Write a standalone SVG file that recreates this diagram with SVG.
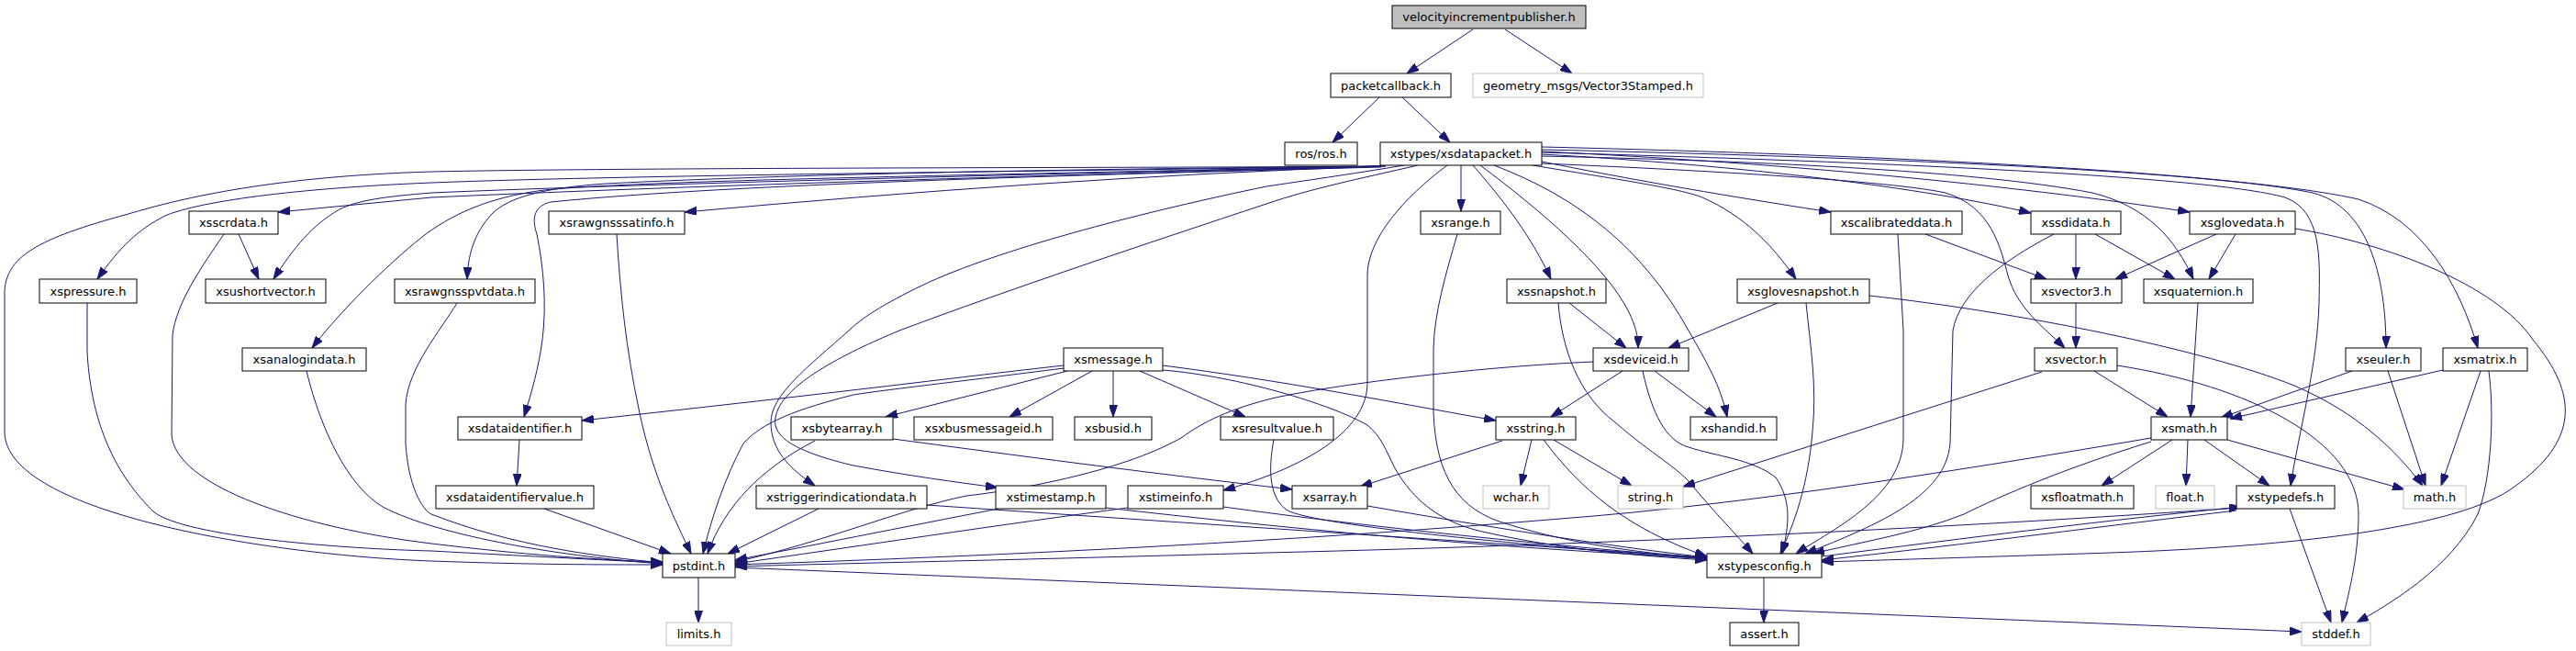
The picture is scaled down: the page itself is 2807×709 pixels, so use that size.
<svg xmlns="http://www.w3.org/2000/svg" width="2807" height="709" viewBox="0 0 2807 709">
<style>
rect{fill:#fff;stroke:#000;stroke-width:1}
.top rect{fill:#bfbfbf}
.ext rect{stroke:#bfbfbf}
text{font-family:"DejaVu Sans","Liberation Sans",sans-serif;font-size:13px;text-anchor:middle;fill:#000}
#edges path{fill:none;stroke:#191970;stroke-width:1;marker-end:url(#a)}
</style>
<defs>
<marker id="a" markerWidth="13" markerHeight="9" refX="13" refY="4.5" orient="auto" markerUnits="userSpaceOnUse"><path d="M0,0 L13,4.5 L0,9 z" fill="#191970" stroke="#191970" stroke-width="1"/></marker>
</defs>
<rect x="0" y="0" width="2807" height="709" style="stroke:none;fill:#fff"/>
<g id="edges">
<path d="M1605,32 L1533,80"/>
<path d="M1640,32 L1713,80"/>
<path d="M1503,106 L1452,155"/>
<path d="M1528,106 L1580,155"/>
<path d="M1510,181 C1300,183 700,182 470,187 C300,192 200,215 140,233 C40,260 5,280 5,320 L5,470 C5,560 300,605 470,611 C580,615 650,615 722,615"/>
<path d="M1510,181 C1200,186 700,190 470,199 C300,206 210,222 180,235 C150,250 130,270 106,304"/>
<path d="M1505,181 C1200,190 800,200 470,215 L303,231"/>
<path d="M1505,181 C1200,188 700,200 470,210 C420,214 390,218 370,228 C340,245 320,270 298,304"/>
<path d="M260,255 L282,304"/>
<path d="M244,255 C220,290 192,330 188,365 L187,473 C190,530 330,575 470,592 C570,604 650,610 722,612"/>
<path d="M95,330 L95,383 C100,480 140,530 167,557 C200,585 380,598 470,600 C580,606 660,610 722,613"/>
<path d="M1505,181 C1100,190 700,196 593,207 C530,215 490,235 460,258 C420,290 370,340 340,379"/>
<path d="M334,404 C350,470 380,530 417,552 C480,585 620,607 722,614"/>
<path d="M1505,181 C1200,184 900,188 660,200 C590,205 555,215 537,232 C515,255 510,280 509,304"/>
<path d="M498,330 C480,360 445,400 442,440 L442,483 C445,530 460,555 470,560 C560,595 650,606 722,613"/>
<path d="M1506,181 C1250,190 1000,208 746,231"/>
<path d="M672,255 C676,320 682,380 697,450 C712,520 735,565 753,603"/>
<path d="M1505,182 C1200,190 800,200 600,220 C580,225 580,240 585,255 C592,290 596,330 591,370 C587,400 580,425 571,454"/>
<path d="M566,479 L563,529"/>
<path d="M593,554 L731,603"/>
<path d="M1159,398 C1050,410 930,426 634,458"/>
<path d="M1159,401 C1050,415 960,425 930,430 C870,445 830,460 810,483 C790,520 775,565 766,603"/>
<path d="M1163,404 L965,454"/>
<path d="M1190,404 L1100,454"/>
<path d="M1213,404 L1213,454"/>
<path d="M1242,404 L1357,454"/>
<path d="M1267,398 C1400,415 1500,435 1630,458"/>
<path d="M1267,403 C1350,410 1450,440 1490,463 C1505,475 1510,490 1520,510 C1540,545 1570,570 1620,580 C1700,598 1780,605 1860,610"/>
<path d="M973,478 C1100,495 1250,515 1408,533"/>
<path d="M888,480 C830,510 790,550 771,603"/>
<path d="M1530,180 C1470,190 1420,197 1380,203 C1250,230 1100,268 1013,307 C970,327 940,345 925,360 C880,400 840,430 840,460 C840,490 860,510 888,529"/>
<path d="M1545,180 C1480,195 1430,205 1380,222 C1250,265 1100,315 980,360 C920,385 850,420 845,455 C840,480 880,495 930,507 C990,518 1040,525 1087,531"/>
<path d="M892,554 L793,603"/>
<path d="M1010,550 C1300,570 1600,590 1860,607"/>
<path d="M1088,554 C980,575 880,595 801,610"/>
<path d="M1205,553 C1400,575 1600,595 1860,608"/>
<path d="M1577,180 C1530,215 1490,260 1490,300 L1490,417 C1490,470 1420,510 1333,534"/>
<path d="M1229,553 C1100,570 920,597 801,614"/>
<path d="M1333,552 C1500,575 1700,595 1860,608"/>
<path d="M1388,479 C1382,510 1382,545 1405,557 C1450,575 1700,597 1860,609"/>
<path d="M1592,180 L1592,230"/>
<path d="M1588,255 C1575,300 1563,340 1562,380 L1562,450 C1565,520 1590,555 1640,570 C1720,595 1800,603 1860,608"/>
<path d="M1605,180 C1640,220 1670,260 1690,304"/>
<path d="M1710,330 L1772,379"/>
<path d="M1698,330 C1702,380 1720,430 1760,460 C1800,495 1830,510 1845,530 C1870,560 1890,580 1910,603"/>
<path d="M1613,180 C1680,230 1750,290 1775,340 C1782,355 1785,365 1785,379"/>
<path d="M1628,180 C1720,215 1790,270 1840,360 C1860,395 1875,420 1882,454"/>
<path d="M1670,180 C1760,195 1830,205 1855,215 C1900,235 1930,265 1957,304"/>
<path d="M1937,330 L1818,379"/>
<path d="M1968,330 C1973,380 1980,420 1975,470 C1970,530 1955,570 1940,603"/>
<path d="M2037,322 C2200,340 2400,380 2500,420 C2570,450 2610,490 2640,529"/>
<path d="M1736,394 C1600,400 1450,420 1390,433 C1340,445 1310,460 1287,477 C1220,515 1100,535 1053,540 C980,555 900,590 801,612"/>
<path d="M1768,404 L1690,454"/>
<path d="M1803,404 L1870,454"/>
<path d="M1790,404 C1800,450 1815,480 1840,487 C1870,497 1910,500 1935,520 C1952,545 1950,570 1942,603"/>
<path d="M1637,480 L1482,530"/>
<path d="M1669,479 L1657,529"/>
<path d="M1693,479 L1778,529"/>
<path d="M1682,479 C1720,530 1770,575 1860,606"/>
<path d="M1490,551 C1600,570 1750,595 1860,607"/>
<path d="M1680,176 C1750,190 1840,207 1995,231"/>
<path d="M2098,255 L2230,304"/>
<path d="M2068,255 L2074,360 L2074,477 C2074,540 2000,575 1957,603"/>
<path d="M1680,168 C1900,180 2100,205 2213,232"/>
<path d="M2262,255 L2262,304"/>
<path d="M2283,255 L2370,304"/>
<path d="M2238,255 C2180,285 2135,320 2128,360 L2125,483 C2120,540 2050,570 1967,603"/>
<path d="M1680,165 C2000,180 2250,210 2386,231"/>
<path d="M2415,255 L2305,304"/>
<path d="M2436,255 L2407,304"/>
<path d="M2501,249 C2600,265 2720,310 2760,370 C2810,430 2810,480 2740,530 C2680,575 2500,595 2300,602 C2150,607 2050,610 1985,612"/>
<path d="M1680,170 C1900,175 2150,185 2280,210 C2340,225 2370,260 2390,304"/>
<path d="M2395,330 L2387,454"/>
<path d="M1680,178 C1800,183 2050,195 2120,210 C2170,225 2180,270 2188,300 C2198,335 2225,355 2250,379"/>
<path d="M2262,330 L2262,379"/>
<path d="M2282,404 L2362,454"/>
<path d="M2225,405 L1834,530"/>
<path d="M2307,398 C2450,420 2570,480 2570,560 C2570,610 2558,650 2552,678"/>
<path d="M1680,166 C2000,175 2400,190 2490,215 C2530,230 2528,280 2527,330 C2525,400 2505,470 2496,529"/>
<path d="M1680,163 C2000,170 2400,185 2520,210 C2580,225 2600,300 2600,379"/>
<path d="M1680,160 C2100,170 2450,190 2570,217 C2640,240 2680,310 2700,379"/>
<path d="M2563,404 L2420,455"/>
<path d="M2602,404 L2643,529"/>
<path d="M2662,403 L2430,456"/>
<path d="M2703,404 L2660,529"/>
<path d="M2712,404 C2718,450 2715,520 2700,560 C2670,620 2600,660 2568,678"/>
<path d="M2367,479 L2290,529"/>
<path d="M2384,479 L2382,529"/>
<path d="M2402,479 L2473,529"/>
<path d="M2427,479 L2620,533"/>
<path d="M2344,477 C2150,510 1900,550 1700,565 C1400,590 1100,605 801,615"/>
<path d="M2344,481 C2250,510 2180,540 2140,560 C2090,580 2030,590 1975,603"/>
<path d="M2440,553 C2200,570 1800,592 1380,602 C1100,610 900,614 801,617"/>
<path d="M2437,556 C2300,572 2150,592 1985,610"/>
<path d="M1985,606 C2150,585 2300,566 2442,552"/>
<path d="M2495,554 L2540,678"/>
<path d="M761,629 L761,678"/>
<path d="M801,618 L2508,688"/>
<path d="M1922,629 L1922,678"/>
</g>
<g id="n_vip" class="top"><rect x="1517" y="6" width="211" height="25"/><text x="1622.5" y="23">velocityincrementpublisher.h</text></g>
<g id="n_packetcallback"><rect x="1450" y="80" width="131" height="26"/><text x="1515.5" y="97.5">packetcallback.h</text></g>
<g id="n_geometry" class="ext"><rect x="1605" y="80" width="251" height="26"/><text x="1730.5" y="97.5">geometry_msgs/Vector3Stamped.h</text></g>
<g id="n_ros"><rect x="1400" y="155" width="79" height="25"/><text x="1439.5" y="172">ros/ros.h</text></g>
<g id="n_xsdatapacket"><rect x="1504" y="155" width="176" height="25"/><text x="1592" y="172">xstypes/xsdatapacket.h</text></g>
<g id="n_xsscrdata"><rect x="206" y="230" width="97" height="25"/><text x="254.5" y="247">xsscrdata.h</text></g>
<g id="n_xsrawgnsssatinfo"><rect x="598" y="230" width="148" height="25"/><text x="672" y="247">xsrawgnsssatinfo.h</text></g>
<g id="n_xsrange"><rect x="1548" y="230" width="87" height="25"/><text x="1591.5" y="247">xsrange.h</text></g>
<g id="n_xscalibrateddata"><rect x="1995" y="230" width="143" height="25"/><text x="2066.5" y="247">xscalibrateddata.h</text></g>
<g id="n_xssdidata"><rect x="2213" y="230" width="98" height="25"/><text x="2262" y="247">xssdidata.h</text></g>
<g id="n_xsglovedata"><rect x="2386" y="230" width="115" height="25"/><text x="2443.5" y="247">xsglovedata.h</text></g>
<g id="n_xspressure"><rect x="43" y="304" width="106" height="26"/><text x="96" y="321.5">xspressure.h</text></g>
<g id="n_xsushortvector"><rect x="224" y="304" width="131" height="26"/><text x="289.5" y="321.5">xsushortvector.h</text></g>
<g id="n_xsrawgnsspvtdata"><rect x="430" y="304" width="153" height="26"/><text x="506.5" y="321.5">xsrawgnsspvtdata.h</text></g>
<g id="n_xssnapshot"><rect x="1642" y="304" width="108" height="26"/><text x="1696" y="321.5">xssnapshot.h</text></g>
<g id="n_xsglovesnapshot"><rect x="1893" y="304" width="144" height="26"/><text x="1965" y="321.5">xsglovesnapshot.h</text></g>
<g id="n_xsvector3"><rect x="2213" y="304" width="99" height="26"/><text x="2262.5" y="321.5">xsvector3.h</text></g>
<g id="n_xsquaternion"><rect x="2336" y="304" width="119" height="26"/><text x="2395.5" y="321.5">xsquaternion.h</text></g>
<g id="n_xsanalogindata"><rect x="264" y="379" width="135" height="25"/><text x="331.5" y="396">xsanalogindata.h</text></g>
<g id="n_xsmessage"><rect x="1159" y="379" width="108" height="25"/><text x="1213" y="396">xsmessage.h</text></g>
<g id="n_xsdeviceid"><rect x="1736" y="379" width="104" height="25"/><text x="1788" y="396">xsdeviceid.h</text></g>
<g id="n_xsvector"><rect x="2217" y="379" width="90" height="25"/><text x="2262" y="396">xsvector.h</text></g>
<g id="n_xseuler"><rect x="2556" y="379" width="82" height="25"/><text x="2597" y="396">xseuler.h</text></g>
<g id="n_xsmatrix"><rect x="2662" y="379" width="92" height="25"/><text x="2708" y="396">xsmatrix.h</text></g>
<g id="n_xsdataidentifier"><rect x="499" y="454" width="135" height="25"/><text x="566.5" y="471">xsdataidentifier.h</text></g>
<g id="n_xsbytearray"><rect x="862" y="454" width="111" height="25"/><text x="917.5" y="471">xsbytearray.h</text></g>
<g id="n_xsxbusmessageid"><rect x="996" y="454" width="151" height="25"/><text x="1071.5" y="471">xsxbusmessageid.h</text></g>
<g id="n_xsbusid"><rect x="1171" y="454" width="84" height="25"/><text x="1213" y="471">xsbusid.h</text></g>
<g id="n_xsresultvalue"><rect x="1330" y="454" width="123" height="25"/><text x="1391.5" y="471">xsresultvalue.h</text></g>
<g id="n_xsstring"><rect x="1630" y="454" width="87" height="25"/><text x="1673.5" y="471">xsstring.h</text></g>
<g id="n_xshandid"><rect x="1842" y="454" width="94" height="25"/><text x="1889" y="471">xshandid.h</text></g>
<g id="n_xsmath"><rect x="2344" y="454" width="83" height="25"/><text x="2385.5" y="471">xsmath.h</text></g>
<g id="n_xsdataidentifiervalue"><rect x="475" y="529" width="172" height="25"/><text x="561" y="546">xsdataidentifiervalue.h</text></g>
<g id="n_xstriggerindicationdata"><rect x="824" y="529" width="186" height="25"/><text x="917" y="546">xstriggerindicationdata.h</text></g>
<g id="n_xstimestamp"><rect x="1085" y="529" width="120" height="25"/><text x="1145" y="546">xstimestamp.h</text></g>
<g id="n_xstimeinfo"><rect x="1229" y="529" width="104" height="25"/><text x="1281" y="546">xstimeinfo.h</text></g>
<g id="n_xsarray"><rect x="1408" y="529" width="82" height="25"/><text x="1449" y="546">xsarray.h</text></g>
<g id="n_wchar" class="ext"><rect x="1616" y="529" width="72" height="25"/><text x="1652" y="546">wchar.h</text></g>
<g id="n_string" class="ext"><rect x="1763" y="529" width="71" height="25"/><text x="1798.5" y="546">string.h</text></g>
<g id="n_xsfloatmath"><rect x="2213" y="529" width="112" height="25"/><text x="2269" y="546">xsfloatmath.h</text></g>
<g id="n_float" class="ext"><rect x="2349" y="529" width="64" height="25"/><text x="2381" y="546">float.h</text></g>
<g id="n_xstypedefs"><rect x="2437" y="529" width="107" height="25"/><text x="2490.5" y="546">xstypedefs.h</text></g>
<g id="n_math" class="ext"><rect x="2619" y="529" width="68" height="25"/><text x="2653" y="546">math.h</text></g>
<g id="n_pstdint"><rect x="722" y="603" width="79" height="26"/><text x="761.5" y="620.5">pstdint.h</text></g>
<g id="n_xstypesconfig"><rect x="1860" y="603" width="125" height="26"/><text x="1922.5" y="620.5">xstypesconfig.h</text></g>
<g id="n_limits" class="ext"><rect x="726" y="678" width="71" height="25"/><text x="761.5" y="695">limits.h</text></g>
<g id="n_assert"><rect x="1885" y="678" width="75" height="25"/><text x="1922.5" y="695">assert.h</text></g>
<g id="n_stddef" class="ext"><rect x="2508" y="678" width="75" height="25"/><text x="2545.5" y="695">stddef.h</text></g>
</svg>
